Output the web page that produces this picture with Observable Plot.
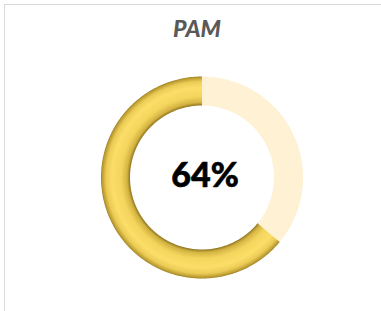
<!DOCTYPE html>
<html><head><meta charset="utf-8">
<script src="https://cdn.jsdelivr.net/npm/d3@7"></script>
<script src="https://cdn.jsdelivr.net/npm/@observablehq/plot@0.6"></script>
<style>
body{margin:0;background:#fff;}
#wrap{position:relative;width:381px;height:311px;overflow:hidden;background:#fff;}
#frame{position:absolute;left:4px;top:4px;width:400px;height:330px;border-top:1px solid #d9d9d9;border-left:1px solid #d9d9d9;box-sizing:border-box;}
#title{position:absolute;left:0;width:394px;top:17px;text-align:center;font:italic 900 23px Lato,"Open Sans",sans-serif;line-height:23px;color:#595959;}
#chart{position:absolute;left:0;top:0;}
</style></head>
<body>
<div id="wrap"><div id="frame"></div><div id="title"></div><div id="chart"></div></div>
<script>
const chartTitle = "PAM";
const categories = ["Remaining", "PAM"];
const values = [36, 64];
const colors = ["#fef1d4", "url(#bevel)"];

document.getElementById("title").textContent = chartTitle;

const W = 381, H = 311, cx = 201.5, cy = 177, rOuter = 101, rInner = 72;
const rMid = (rOuter + rInner) / 2;

// slice angles (clockwise from 12 o'clock) from the data
const pie = d3.pie().sort(null).value(d => d.value);
const arcs = pie(categories.map((c, i) => ({category: c, value: values[i], color: colors[i]})));
const pts = [];
for (const a of arcs) {
  const n = Math.max(2, Math.ceil((a.endAngle - a.startAngle) / 0.01));
  for (let k = 0; k <= n; k++) {
    const t = a.startAngle + (a.endAngle - a.startAngle) * k / n;
    pts.push({category: a.data.category, color: a.data.color, x: rMid * Math.sin(t), y: rMid * Math.cos(t)});
  }
}

const plot = Plot.plot({
  width: W, height: H,
  margin: 0,
  x: {domain: [-cx, W - cx], axis: null},
  y: {domain: [-(H - cy), cy], axis: null},
  marks: [
    Plot.line(pts, {x: "x", y: "y", z: "category", stroke: d => d.color, strokeWidth: rOuter - rInner, strokeLinecap: "butt", strokeLinejoin: "round", curve: "linear"}),
    Plot.text([`${values[1]}%`], {x: () => 0, y: () => 0, text: d => d, dx: 3, dy: -1, fontSize: 34, fontWeight: 900, fontFamily: "Lato, 'Open Sans', sans-serif", fill: "#000", stroke: "#000", strokeWidth: 0.6})
  ]
});

const svg = d3.select(plot);
const defs = svg.insert("defs", ":first-child");
const g = defs.append("radialGradient").attr("id", "bevel").attr("gradientUnits", "userSpaceOnUse")
  .attr("cx", cx).attr("cy", cy).attr("r", rOuter);
[[rInner / rOuter, "#8f741e"], [(rInner + 3) / rOuter, "#d3b442"], [(rInner + 9) / rOuter, "#f4d45c"],
 [(rInner + 18) / rOuter, "#fbde68"], [(rOuter - 5) / rOuter, "#ebcb54"], [(rOuter - 1) / rOuter, "#b8992f"], [1, "#9c7f22"]]
  .forEach(([o, c]) => g.append("stop").attr("offset", o).attr("stop-color", c));

document.getElementById("chart").appendChild(plot);
</script>
</body></html>
